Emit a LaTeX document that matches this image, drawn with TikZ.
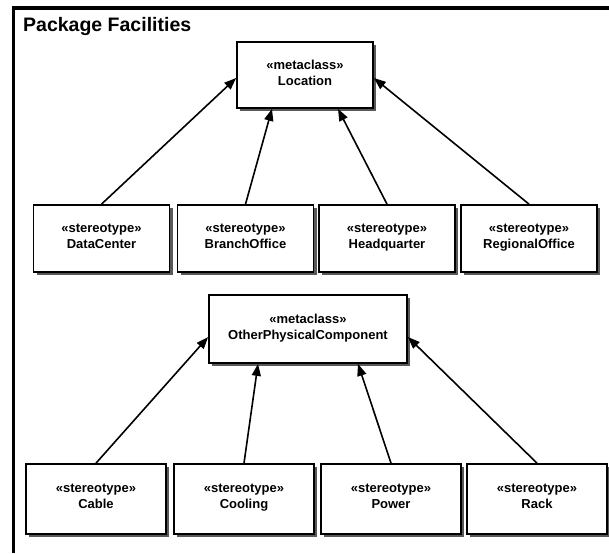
\documentclass[tikz,border=0pt]{standalone}
\usepackage{fontspec}
\setmainfont{Liberation Sans}
\usetikzlibrary{arrows.meta,shadows}

\begin{document}
\begin{tikzpicture}[x=1pt,y=-1pt,
    cls/.style={draw, line width=1.7pt, fill=white, inner sep=0pt, align=center,
      font=\bfseries\fontsize{13}{16}\selectfont,
      execute at begin node={\strut}, execute at end node={\strut},
      drop shadow={shadow xshift=3pt, shadow yshift=-3pt, fill=black!65, opacity=1}},
    gen/.style={-{Triangle[length=12pt,width=9pt]}, line width=1.6pt}]
  \useasboundingbox (0,0) rectangle (609,553);
  \draw[line width=3.8pt] (13.5,553) -- (13.5,8) -- (609,8);
  \node[anchor=base west, inner sep=0pt, font=\bfseries\fontsize{19.5}{23}\selectfont]
    (title) at (23,32) {Package Facilities};

  \node[cls, minimum width=136pt, minimum height=66pt] (loc) at (305,75) {«metaclass»\\Location};
  \node[cls, minimum width=136pt, minimum height=67pt] (dc)  at (101.5,238.5) {«stereotype»\\DataCenter};
  \node[cls, minimum width=136pt, minimum height=67pt] (bo)  at (245.5,238.5) {«stereotype»\\BranchOffice};
  \node[cls, minimum width=136pt, minimum height=67pt] (hq)  at (387,238.5) {«stereotype»\\Headquarter};
  \node[cls, minimum width=136pt, minimum height=67pt] (ro)  at (529,238.5) {«stereotype»\\RegionalOffice};

  \draw[gen] (dc.north) -- ([yshift=-3pt]loc.west);
  \draw[gen] (bo.north) -- ([xshift=-33pt]loc.south);
  \draw[gen] (hq.north) -- ([xshift=33pt]loc.south);
  \draw[gen] (ro.north) -- ([yshift=-3pt]loc.east);

  \node[cls, minimum width=198pt, minimum height=68pt] (opc) at (308,329) {«metaclass»\\OtherPhysicalComponent};
  \node[cls, minimum width=140pt, minimum height=70pt] (cab) at (96,499) {«stereotype»\\Cable};
  \node[cls, minimum width=140pt, minimum height=70pt] (coo) at (244,499) {«stereotype»\\Cooling};
  \node[cls, minimum width=140pt, minimum height=70pt] (pow) at (391,499) {«stereotype»\\Power};
  \node[cls, minimum width=140pt, minimum height=70pt] (rck) at (537,499) {«stereotype»\\Rack};

  \draw[gen] (cab.north) -- ([yshift=-8pt]opc.west);
  \draw[gen] (coo.north) -- ([xshift=-50pt]opc.south);
  \draw[gen] (pow.north) -- ([xshift=50pt]opc.south);
  \draw[gen] (rck.north) -- ([yshift=-8pt]opc.east);
\end{tikzpicture}
\end{document}
